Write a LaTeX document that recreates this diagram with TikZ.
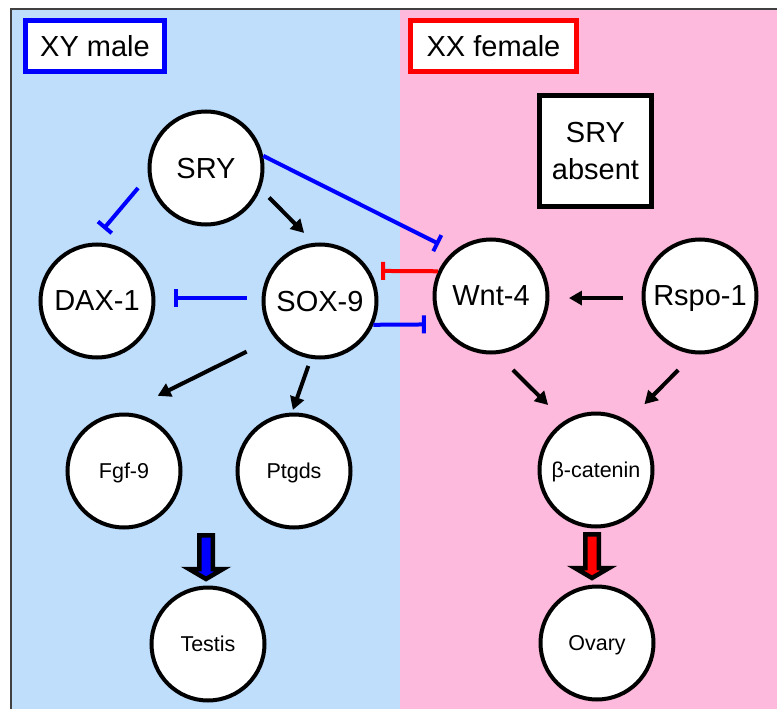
\documentclass[tikz,border=0pt]{standalone}
\usepackage{fontspec}
\setmainfont{Liberation Sans}
\usetikzlibrary{arrows.meta}

\definecolor{maleblue}{RGB}{190,222,252}
\definecolor{femalepink}{RGB}{253,186,220}

\tikzset{
  gene/.style={circle, draw, line width=4pt, fill=white, minimum size=113pt, inner sep=0pt,
    text depth=0pt, font=\fontsize{29}{34}\selectfont},
  smallgene/.style={gene, font=\fontsize{21.5}{26}\selectfont},
  tag/.style={draw, line width=4.5pt, fill=white, inner sep=0pt, minimum height=51.4pt,
    font=\fontsize{29}{37}\selectfont},
  act/.style={line width=4pt, -{Triangle[length=13pt,width=14pt]}},
  inh/.style={line width=4pt, -{Bar[width=18pt]}},
  fat/.style={draw=black, line width=4.5pt, line join=miter}
}

\begin{document}
\begin{tikzpicture}[x=1pt, y=-1pt]
  \useasboundingbox (0,0) rectangle (777,709);
  \fill[maleblue] (12,10) rectangle (400,709);
  \fill[femalepink] (400,10) rectangle (777,709);
  \draw[black!75, line width=2pt] (11,9) rectangle (800,730);

  \node[tag, draw=blue, minimum width=139.4pt] (male) at (95,46) {XY male};
  \node[tag, draw=red, minimum width=166.4pt] (female) at (493.5,46) {XX female};
  \node[tag, minimum width=112pt, minimum height=111pt, align=center] (absent) at (595.5,151) {SRY\\absent};

  % male side
  \node[gene] (sry) at (206,168) {SRY};
  \node[gene] (dax) at (97,301) {DAX-1};
  \node[gene] (sox) at (320,301) {SOX-9};
  \node[smallgene] (fgf) at (124,471) {Fgf-9};
  \node[smallgene] (ptg) at (294,471) {Ptgds};
  \node[smallgene] (testis) at (208,644) {Testis};

  % female side
  \node[gene] (wnt) at (491,296) {Wnt-4};
  \node[gene] (rspo) at (700,296) {Rspo-1};
  \node[smallgene] (bcat) at (596,470) {β-catenin};
  \node[smallgene] (ovary) at (597,643) {Ovary};

  \draw[act, shorten <=12.1pt, shorten >=13.9pt] (sry.-21.5) -- (sox.96);
  \draw[inh, blue, shorten <=15.5pt, shorten >=18.1pt] (sry.188) -- (dax.95.6);
  \draw[inh, blue, shorten >=16pt] (sry.12.8) -- (wnt.130);
  \draw[inh, red, shorten >=11pt] (wnt.155) -- (sox.31);
  \draw[inh, blue, shorten <=14.6pt, shorten >=18.6pt] (sox.177) -- (dax.3);
  \draw[inh, blue, shorten >=14pt] (sox.-24.2) -- (wnt.209.7);
  \draw[act, shorten <=18.5pt, shorten >=19.5pt] (rspo.182) -- (wnt.-2);
  \draw[act, shorten <=31.1pt, shorten >=37.6pt] (sox.219.6) -- (fgf.90.8);
  \draw[act, shorten <=7.6pt, shorten >=2.75pt] (sox.261.8) -- (ptg.92.9);
  \draw[act, shorten <=22.4pt, shorten >=22.6pt] (wnt.276) -- (bcat.123.1);
  \draw[act, shorten <=22.4pt, shorten >=23.5pt] (rspo.264) -- (bcat.57.6);

  % fat arrows into the gonads
  \coordinate (mtip) at ([xshift=-2pt, yshift=6.5pt]testis.north);
  \coordinate (ftip) at ([xshift=-5pt, yshift=6.5pt]ovary.north);
  \draw[fat, fill=blue] (mtip) -- ++(-17,-10) -- ++(10.25,0) -- ++(0,-33.75) -- ++(13.5,0)
    -- ++(0,33.75) -- ++(10.25,0) -- cycle;
  \draw[fat, fill=red] (ftip) -- ++(-17,-10) -- ++(10.25,0) -- ++(0,-33.75) -- ++(13.5,0)
    -- ++(0,33.75) -- ++(10.25,0) -- cycle;
\end{tikzpicture}
\end{document}
